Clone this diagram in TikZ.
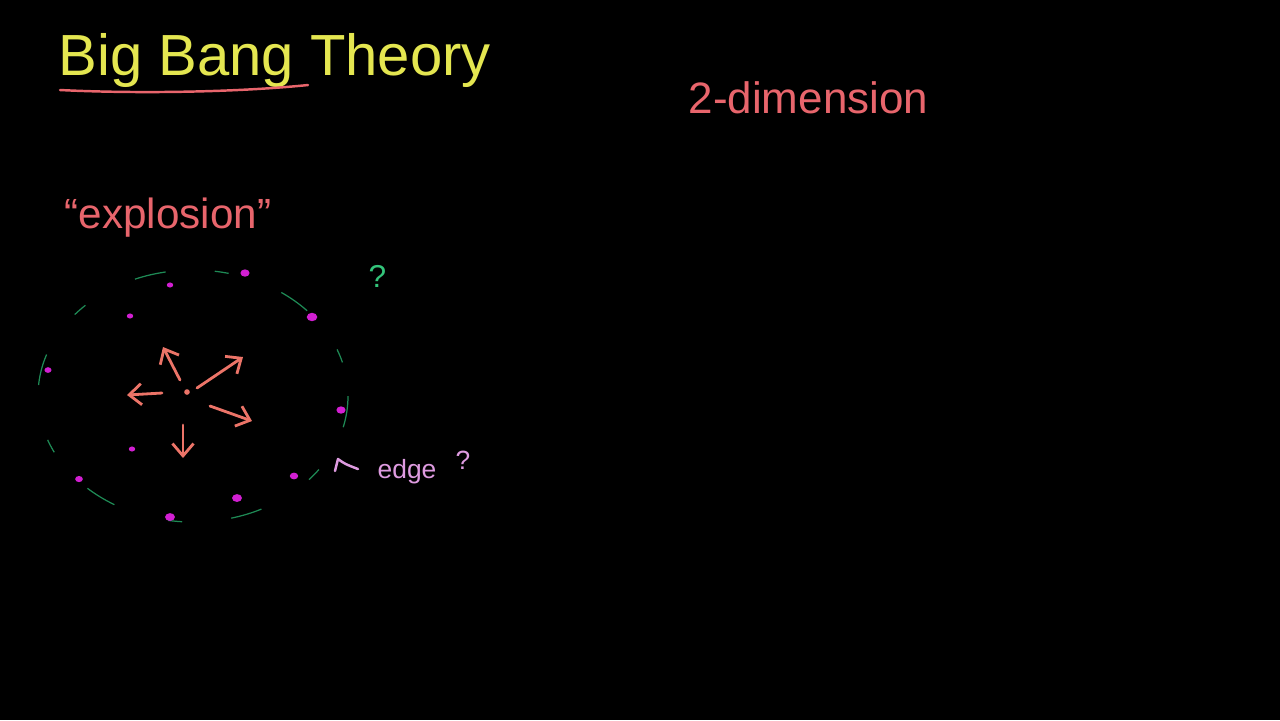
\documentclass[tikz,border=0pt]{standalone}
\usepackage{fontspec}
\setmainfont{Liberation Sans}
\usetikzlibrary{arrows.meta}
\definecolor{titley}{HTML}{E4E650}
\definecolor{salmon}{HTML}{E8656C}
\definecolor{arrowred}{HTML}{EC7468}
\definecolor{dgreen}{HTML}{1E8A55}
\definecolor{qgreen}{HTML}{33C47A}
\definecolor{mag}{HTML}{D21FD2}
\definecolor{lav}{HTML}{DE9BE0}
\tikzset{
  lbl/.style={inner sep=0pt, anchor=base west},
  dot/.style={ellipse, fill=mag, inner sep=0pt, minimum width=#1, minimum height=0.8*#1},
  dot/.default=2pt,
  burst/.style={arrowred, line width=0.8pt, line cap=round, -{Straight Barb[length=3.5pt, width=6pt, line width=0.8pt]}},
}
\usetikzlibrary{shapes.geometric}
\begin{document}
\begin{tikzpicture}[x=0.01cm, y=-0.01cm]
\useasboundingbox[fill=black] (0,0) rectangle (1280,720);

% title
\node[lbl, text=titley, font=\fontsize{16.5}{19}\selectfont] (title) at (58,75) {Big Bang Theory};
\coordinate (ul1) at (60,90);
\coordinate (ul2) at (308,85);
\draw[salmon, line width=0.7pt, line cap=round] (ul1) .. controls (140,94) and (240,92) .. (ul2);

% 2-dimension
\node[lbl, text=salmon, font=\fontsize{12.5}{15}\selectfont] (dim) at (688,113) {2-dimension};

% explosion
\node[lbl, text=salmon, font=\fontsize{12}{14}\selectfont] (expl) at (64,228) {``explosion''};

% dashed boundary
\draw[dgreen, line width=0.35pt, dash pattern=on 9pt off 14pt on 4pt off 16pt] (193,396) ellipse [x radius=155, y radius=126];

% galaxies (magenta dots)
\node[dot=2.6pt] (g1) at (245,273) {};
\node[dot=1.8pt] (g2) at (170,285) {};
\node[dot=1.8pt] (g3) at (130,316) {};
\node[dot=3pt] (g4) at (312,317) {};
\node[dot=2pt] (g5) at (48,370) {};
\node[dot=2.6pt] (g6) at (341,410) {};
\node[dot=1.8pt] (g7) at (132,449) {};
\node[dot=2.4pt] (g8) at (294,476) {};
\node[dot=2.2pt] (g9) at (79,479) {};
\node[dot=2.8pt] (g10) at (237,498) {};
\node[dot=2.8pt] (g11) at (170,517) {};

% center
\node[circle, fill=arrowred, inner sep=0pt, minimum size=1.6pt] (c) at (187,392) {};
\coordinate (a1) at (163,347);
\coordinate (a2) at (243,357);
\coordinate (a3) at (127,395);
\coordinate (a4) at (252,421);
\coordinate (a5) at (183,458);
\draw[burst] (180,380) -- (a1);
\draw[burst] (197,388) -- (a2);
\draw[burst] (162,393) -- (a3);
\draw[burst] (210,406) -- (a4);
\draw[burst] (183,425) -- (a5);

% question mark
\node[lbl, text=qgreen, font=\fontsize{9}{11}\selectfont] (q1) at (368,287) {?};

% edge label
\node[lbl, text=lav, font=\fontsize{7.5}{9}\selectfont] (edge) at (377,478) {edge};
\node[lbl, text=lav, font=\fontsize{7.5}{9}\selectfont] (q2) at (455,469) {?};
\coordinate (p1) at (335,471);
\coordinate (p2) at (338,459);
\coordinate (p3) at (358,469);
\draw[lav, line width=0.7pt, line cap=round, line join=round] (p1) -- (p2) .. controls (345,464) .. (p3);
\end{tikzpicture}
\end{document}
